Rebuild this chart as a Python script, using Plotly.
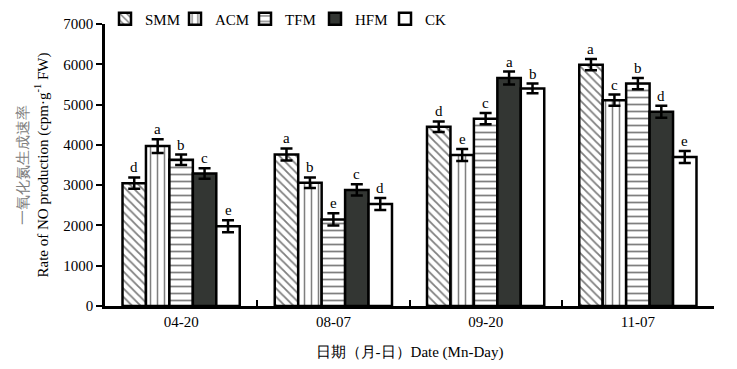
import plotly.graph_objects as go

dates = ["04-20", "08-07", "09-20", "11-07"]
series = ["SMM", "ACM", "TFM", "HFM", "CK"]
smm = [3050, 3760, 4450, 5990]
acm = [3970, 3060, 3750, 5110]
tfm = [3630, 2150, 4650, 5520]
hfm = [3290, 2880, 5660, 4820]
ck = [1980, 2530, 5400, 3700]
smm_err = [140, 150, 130, 140]
acm_err = [170, 130, 150, 140]
tfm_err = [130, 150, 140, 140]
hfm_err = [130, 140, 160, 150]
ck_err = [150, 150, 120, 150]
smm_sig = ["d", "a", "d", "a"]
acm_sig = ["a", "b", "e", "c"]
tfm_sig = ["b", "e", "c", "b"]
hfm_sig = ["c", "c", "a", "d"]
ck_sig = ["e", "d", "b", "e"]

values = [smm, acm, tfm, hfm, ck]
errs = [smm_err, acm_err, tfm_err, hfm_err, ck_err]
sigs = [smm_sig, acm_sig, tfm_sig, hfm_sig, ck_sig]
styles = [
    dict(color="white", pattern=dict(shape="\\", fgcolor="black", size=6, solidity=0.3)),
    dict(color="white", pattern=dict(shape="|", fgcolor="black", size=7, solidity=0.22)),
    dict(color="white", pattern=dict(shape="-", fgcolor="black", size=7, solidity=0.25)),
    dict(color="#333633"),
    dict(color="white"),
]

FONT = "Liberation Serif"
FS = 15
ML, MR, MT, MB = 97, 31, 16, 71
fig = go.Figure()
for name, v, e, st in zip(series, values, errs, styles):
    fig.add_trace(go.Bar(
        x=dates, y=v, name=name,
        marker=dict(line=dict(color="black", width=2.5), **st),
        error_y=dict(type="data", array=e, color="black", thickness=2.5, width=6),
    ))

# significance letters
plot_w = 737 - ML - MR
cat_w = plot_w / len(dates)
bargap = 0.23
bar_w = cat_w * (1 - bargap) / len(series)
for j, (v, e, s) in enumerate(zip(values, errs, sigs)):
    for i, d in enumerate(dates):
        fig.add_annotation(x=d, y=v[i] + e[i], text=s[i], showarrow=False,
                           xref="x", yref="y", yanchor="bottom", yshift=0,
                           xshift=(j - 2) * bar_w,
                           font=dict(family=FONT, size=FS, color="black"))

fig.update_layout(
    width=737, height=369,
    margin=dict(l=ML, r=MR, t=MT, b=MB, autoexpand=False),
    paper_bgcolor="white", plot_bgcolor="white",
    barmode="group", bargap=bargap, bargroupgap=0,
    font=dict(family=FONT, size=FS, color="black"),
    showlegend=True,
    legend=dict(orientation="h", x=0.0, y=1.018, xanchor="left", yanchor="middle",
                font=dict(family=FONT, size=FS, color="black"),
                itemwidth=30, entrywidthmode="pixels", entrywidth=25,
                bgcolor="rgba(0,0,0,0)"),
)
fig.update_xaxes(
    type="category", automargin=False,
    showline=True, linecolor="black", linewidth=2.5,
    ticks="inside", tickson="boundaries", ticklen=6, tickwidth=2, tickcolor="black",
    showgrid=False, tickfont=dict(family=FONT, size=FS),
    title=dict(text="日期（月-日）Date (Mn-Day)", font=dict(family=FONT, size=FS), standoff=18),
)
fig.update_yaxes(
    range=[0, 7000], dtick=1000, automargin=False,
    showline=True, linecolor="black", linewidth=2.5,
    ticks="outside", ticklen=6, tickwidth=2, tickcolor="black",
    showgrid=False, zeroline=False, tickfont=dict(family=FONT, size=FS),
    title=dict(text="<span style='color:#808080'>一氧化氮生成速率</span><br>Rate of NO production (cpm·g<sup>-1</sup> FW)",
               font=dict(family=FONT, size=FS), standoff=12),
)
fig.write_html("out.html")
